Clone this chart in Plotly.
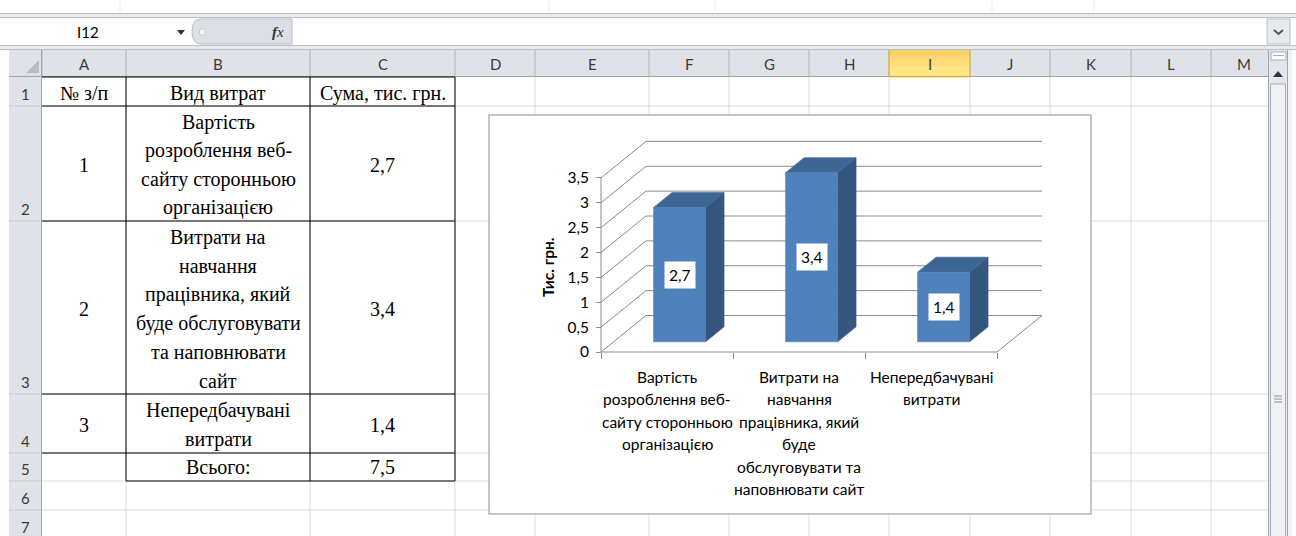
import plotly.graph_objects as go

# ---------------- data ----------------
table_header = ["№ з/п", "Вид витрат", "Сума, тис. грн."]
row_no = ["1", "2", "3"]
cost_items = [
    ["Вартість", "розроблення веб-", "сайту сторонньою", "організацією"],
    ["Витрати на", "навчання", "працівника, який", "буде обслуговувати", "та наповнювати", "сайт"],
    ["Непередбачувані", "витрати"],
]
cost_values = [2.7, 3.4, 1.4]
total_label = "Всього:"

category_labels = [
    ["Вартість", "розроблення веб-", "сайту сторонньою", "організацією"],
    ["Витрати на", "навчання", "працівника, який", "буде", "обслуговувати та", "наповнювати сайт"],
    ["Непередбачувані", "витрати"],
]
value_ticks = [0, 0.5, 1, 1.5, 2, 2.5, 3, 3.5]
axis_title = "Тис. грн."

column_letters = ["A", "B", "C", "D", "E", "F", "G", "H", "I", "J", "K", "L", "M"]
row_numbers = ["1", "2", "3", "4", "5", "6", "7"]
cell_ref = "I12"
active_column = "I"

# ---------------- layout constants (pixels) ----------------
W, H = 1296, 536
COL_X = [42, 126, 310, 455, 535, 649, 729, 809, 889, 970, 1050, 1131, 1211, 1268]
ROW_Y = [77, 106, 221, 394, 453, 481, 510, 539]
HEAD_TOP = 50
ROWHEAD_L = 9

BOX = (489, 115, 1091, 514)          # chart object: left, top, right, bottom
ORIGIN = (601, 352)                  # front plane: category 0 / value 0
PX_PER_CAT = 132.0
PX_PER_VAL = 49.75
DEPTH_PX = (45.0, 36.5)              # floor depth vector (right, up)
BAR_HALF = 0.197                     # half bar width, in categories
BAR_D0, BAR_D1 = 0.28, 0.69          # bar depth span (fraction of floor depth)

DX = DEPTH_PX[0] / PX_PER_CAT
DY = DEPTH_PX[1] / PX_PER_VAL

SERIF = "Liberation Serif"
SANS = "Lato"
CHART_FS = 15.5
TABLE_FS = 20
GRID = "#DCDDDE"
HEAD_BG = "#DFE3E8"
HEAD_LINE = "#AEB5C0"
CHART_LINE = "#8A8A8A"
FRONT = "#4F81BD"
SIDE = "#35567F"
TOP = "#3E6695"


def fmt(v):
    return f"{v:g}".replace(".", ",")


shapes = []
annotations = []


def rect(x0, y0, x1, y1, fill=None, line=None, width=1):
    shapes.append(dict(type="rect", xref="x", yref="y", x0=x0, y0=y0, x1=x1, y1=y1,
                       fillcolor=fill or "rgba(0,0,0,0)",
                       line=dict(color=line or "rgba(0,0,0,0)", width=width if line else 0),
                       layer="below"))


def seg(x0, y0, x1, y1, color, width=1):
    shapes.append(dict(type="line", xref="x", yref="y", x0=x0, y0=y0, x1=x1, y1=y1,
                       line=dict(color=color, width=width), layer="below"))


def path(d, fill=None, line=None, width=1):
    shapes.append(dict(type="path", xref="x", yref="y", path=d,
                       fillcolor=fill or "rgba(0,0,0,0)",
                       line=dict(color=line or "rgba(0,0,0,0)", width=width if line else 0),
                       layer="below"))


def text(x, y, s, size=14, family=SANS, color="#000000", xanchor="center", **kw):
    annotations.append(dict(x=x, y=y, xref=kw.pop("xref", "x"), yref=kw.pop("yref", "y"),
                            text=s, showarrow=False, xanchor=xanchor, yanchor="middle",
                            font=dict(family=family, size=size, color=color), **kw))


# ---------------- window chrome ----------------
for gx in [120, 549, 715, 992, 1094]:
    seg(gx, 0, gx, 12, "#ECECEC")
rect(0, 13, W, 18, fill="#E8EAED")
seg(0, 13.5, W, 13.5, "#BBC0C7")
seg(0, 17.5, W, 17.5, "#BBC0C7")
rect(0, 45, W, 50, fill="#E8EAED")
seg(0, 45.5, W, 45.5, "#BBC0C7")
seg(0, 49.5, W, 49.5, "#BBC0C7")

# name box and formula bar
text(88, 32, cell_ref, size=15)
path("M 177 30 L 185 30 L 181 35 Z", fill="#2F2F2F")
path("M 201 19 L 292 19 L 292 44 L 201 44 Q 192 44 192 31.5 Q 192 19 201 19 Z",
     fill="#DCE0E6", line="#B9BEC6")
shapes.append(dict(type="circle", xref="x", yref="y", x0=199, y0=28.5, x1=206, y1=35.5,
                   fillcolor="#EEF0F2", line=dict(color="#C5C9CF", width=1), layer="below"))
text(278, 32, "<b><i>f</i></b><i>x</i>", size=15, family=SERIF, color="#333333")
rect(1267, 19, 1290, 44, fill="#E6E9EE", line="#B9BEC6")
path("M 1274 30 L 1278.5 34 L 1283 30", line="#555555", width=2)

# ---------------- sheet grid ----------------
for cx in COL_X[1:-1]:
    seg(cx, ROW_Y[0], cx, H, GRID)
for ry in ROW_Y[1:]:
    seg(COL_X[0], ry, COL_X[-1], ry, GRID)

# column headers
rect(ROWHEAD_L, HEAD_TOP, COL_X[-1], ROW_Y[0], fill=HEAD_BG)
ia = column_letters.index(active_column)
hx0, hx1 = COL_X[ia], COL_X[ia + 1]
strip_cols = ["#FCD067", "#FDD870", "#FEDF79", "#FFE583", "#FFEA8C"]
sh = (ROW_Y[0] - HEAD_TOP) / len(strip_cols)
for k, c in enumerate(strip_cols):
    rect(hx0, HEAD_TOP + k * sh, hx1, HEAD_TOP + (k + 1) * sh + 0.5, fill=c)
for cx in COL_X[:-1]:
    seg(cx, HEAD_TOP, cx, ROW_Y[0], HEAD_LINE)
seg(hx0, HEAD_TOP, hx0, ROW_Y[0], "#E2AE45")
seg(hx1, HEAD_TOP, hx1, ROW_Y[0], "#E2AE45")
seg(ROWHEAD_L, ROW_Y[0] - 0.5, COL_X[-1], ROW_Y[0] - 0.5, "#9EA6B2")
seg(hx0, ROW_Y[0] - 0.5, hx1, ROW_Y[0] - 0.5, "#E2AE45", 1.5)
for k, letter in enumerate(column_letters):
    text((COL_X[k] + COL_X[k + 1]) / 2 + (4 if letter == "M" else 0), 64, letter,
         size=15, color="#3A3A3A")

# select-all corner
path("M 26 73 L 39 73 L 39 60 Z", fill="#B8BDC5")

# row headers
rect(ROWHEAD_L, ROW_Y[0], COL_X[0], H, fill=HEAD_BG)
for ry in ROW_Y[1:]:
    seg(ROWHEAD_L, ry, COL_X[0], ry, "#C3C8D0")
seg(COL_X[0] - 0.5, HEAD_TOP, COL_X[0] - 0.5, H, "#9EA6B2")
for k, rn in enumerate(row_numbers):
    text(25, ROW_Y[k + 1] - 12, rn, size=15, color="#3A3A3A")

# scroll bar
rect(1268, HEAD_TOP, 1292, H, fill="#E3E6EC")
seg(1268.5, HEAD_TOP, 1268.5, H, "#9EA6B2")
seg(1287.5, HEAD_TOP, 1287.5, H, "#9EA6B2")
rect(1288, HEAD_TOP, 1292, H, fill="#F1F2F4")
rect(1271, 52, 1286, 60, fill="#FFFFFF", line="#A6ADB7")
seg(1273, 55.5, 1284, 55.5, "#A6ADB7")
path("M 1273 77 L 1283 77 L 1278 71 Z", fill="#333333")
rect(1270.5, 84, 1285.5, H + 5, fill="#EEF0F3", line="#A9B0BA")
for gy in [396, 399, 402]:
    seg(1274, gy, 1282, gy, "#8C939E")

# ---------------- cost table ----------------
for k, h in enumerate(table_header):
    text((COL_X[k] + COL_X[k + 1]) / 2, 93, h, size=TABLE_FS, family=SERIF)

LINE_STEP = 28.6
for r, (no, lines, val) in enumerate(zip(row_no, cost_items, cost_values)):
    top, bot = ROW_Y[r + 1], ROW_Y[r + 2]
    cy = (top + bot) / 2 + 1.5
    text((COL_X[0] + COL_X[1]) / 2, cy, no, size=TABLE_FS, family=SERIF)
    text((COL_X[2] + COL_X[3]) / 2, cy, fmt(val), size=TABLE_FS, family=SERIF)
    n = len(lines)
    for j, ln in enumerate(lines):
        text((COL_X[1] + COL_X[2]) / 2, cy + (j - (n - 1) / 2) * LINE_STEP, ln,
             size=TABLE_FS, family=SERIF)
ty = (ROW_Y[4] + ROW_Y[5]) / 2
text((COL_X[1] + COL_X[2]) / 2, ty, total_label, size=TABLE_FS, family=SERIF)
text((COL_X[2] + COL_X[3]) / 2, ty, fmt(round(sum(cost_values), 2)), size=TABLE_FS, family=SERIF)

# table borders
for cx in COL_X[1:4]:
    seg(cx, ROW_Y[0], cx, ROW_Y[5], "#000000")
for ry in ROW_Y[0:5]:
    seg(COL_X[0], ry, COL_X[3], ry, "#000000")
seg(COL_X[1], ROW_Y[5], COL_X[3], ROW_Y[5], "#000000")

# chart object frame
rect(BOX[0], BOX[1], BOX[2], BOX[3], fill="#FFFFFF", line="#B2B2B2", width=1.5)

# ---------------- 3-D column chart ----------------
def proj(x, v, d):
    return x + d * DX, v + d * DY


n_cat = len(cost_values)
top_tick = value_ticks[-1]
fig = go.Figure()


def add_lines(segments, color=CHART_LINE, width=1):
    xs, ys = [], []
    for (a, b) in segments:
        xs += [a[0], b[0], None]
        ys += [a[1], b[1], None]
    fig.add_trace(go.Scatter(x=xs, y=ys, mode="lines", xaxis="x2", yaxis="y2",
                             line=dict(color=color, width=width),
                             hoverinfo="skip", showlegend=False))


segs = []
for t in value_ticks:
    segs.append((proj(0, t, 1), proj(n_cat, t, 1)))   # back wall
    segs.append((proj(0, t, 0), proj(0, t, 1)))       # side wall
segs.append((proj(0, 0, 0), proj(n_cat, 0, 0)))       # floor front edge
segs.append((proj(n_cat, 0, 0), proj(n_cat, 0, 1)))   # floor right edge
segs.append((proj(0, 0, 0), proj(0, top_tick, 0)))    # value axis
add_lines(segs)


def face(pts, color):
    xs = [p[0] for p in pts] + [pts[0][0]]
    ys = [p[1] for p in pts] + [pts[0][1]]
    fig.add_trace(go.Scatter(x=xs, y=ys, mode="lines", fill="toself", fillcolor=color,
                             line=dict(color=color, width=0.6), xaxis="x2", yaxis="y2",
                             hoverinfo="skip", showlegend=False))


for i, v in enumerate(cost_values):
    xl, xr = i + 0.5 - BAR_HALF, i + 0.5 + BAR_HALF
    face([proj(xr, 0, BAR_D0), proj(xr, 0, BAR_D1), proj(xr, v, BAR_D1), proj(xr, v, BAR_D0)], SIDE)
    face([proj(xl, v, BAR_D0), proj(xr, v, BAR_D0), proj(xr, v, BAR_D1), proj(xl, v, BAR_D1)], TOP)
    face([proj(xl, 0, BAR_D0), proj(xr, 0, BAR_D0), proj(xr, v, BAR_D0), proj(xl, v, BAR_D0)], FRONT)
    lx, ly = proj(i + 0.5, v / 2, BAR_D0)
    annotations.append(dict(x=lx, y=ly, xref="x2", yref="y2", text=fmt(v), showarrow=False,
                            bgcolor="#FFFFFF", borderpad=4,
                            font=dict(family=SANS, size=CHART_FS, color="#000000")))

# category labels, one annotation per wrapped line
CAT_Y0, CAT_STEP = 377, 22.4
for i, lines in enumerate(category_labels):
    for j, ln in enumerate(lines):
        text(i + 0.5, CAT_Y0 + j * CAT_STEP, ln, size=CHART_FS, xref="x2", yref="y")

text(548, 267, "<b>" + axis_title + "</b>", size=15.5, textangle=-90)

fig.update_layout(
    width=W, height=H,
    margin=dict(l=0, r=0, t=0, b=0),
    paper_bgcolor="#FFFFFF", plot_bgcolor="rgba(0,0,0,0)",
    showlegend=False,
    xaxis=dict(range=[0, W], domain=[0, 1], visible=False, fixedrange=True),
    yaxis=dict(range=[H, 0], domain=[0, 1], visible=False, fixedrange=True),
    xaxis2=dict(domain=[BOX[0] / W, BOX[2] / W],
                range=[(BOX[0] - ORIGIN[0]) / PX_PER_CAT, (BOX[2] - ORIGIN[0]) / PX_PER_CAT],
                anchor="free", position=(H - ORIGIN[1]) / H,
                showgrid=False, zeroline=False, showline=False,
                tickvals=list(range(n_cat + 1)), ticks="outside", ticklen=6,
                tickcolor=CHART_LINE, showticklabels=False, fixedrange=True),
    yaxis2=dict(domain=[(H - BOX[3]) / H, (H - BOX[1]) / H],
                range=[(ORIGIN[1] - BOX[3]) / PX_PER_VAL, (ORIGIN[1] - BOX[1]) / PX_PER_VAL],
                anchor="free", position=ORIGIN[0] / W,
                showgrid=False, zeroline=False, showline=False,
                tickvals=value_ticks, ticktext=[fmt(t) for t in value_ticks],
                ticks="outside", ticklen=5, tickcolor=CHART_LINE, ticklabelstandoff=4,
                tickfont=dict(family=SANS, size=CHART_FS, color="#000000"), fixedrange=True),
    shapes=shapes,
    annotations=annotations,
)

fig.write_html("out.html")
